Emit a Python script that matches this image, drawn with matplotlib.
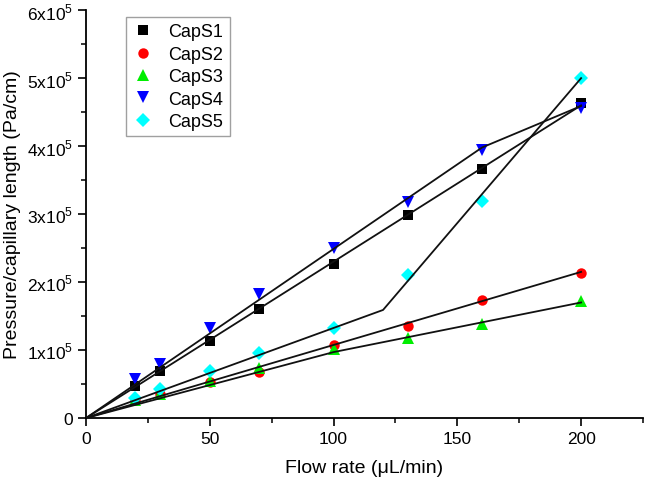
import matplotlib
matplotlib.use("Agg")
import matplotlib.pyplot as plt
from matplotlib.ticker import MultipleLocator, FuncFormatter

plt.rcParams['font.family'] = ['Liberation Sans', 'DejaVu Sans']
plt.rcParams['mathtext.fontset'] = 'custom'
plt.rcParams['mathtext.rm'] = 'Liberation Sans'

# measured points
flow = [20, 30, 50, 70, 100, 130, 160, 200]
caps1 = [47e3, 69e3, 113e3, 160e3, 226e3, 299e3, 367e3, 464e3]
caps2 = [28e3, 36e3, 53e3, 68e3, 107e3, 135e3, 174e3, 214e3]
caps3 = [26e3, 35e3, 55e3, 73e3, 102e3, 118e3, 138e3, 172e3]
caps4 = [57e3, 80e3, 132e3, 183e3, 250e3, 318e3, 395e3, 456e3]
caps5 = [30e3, 43e3, 69e3, 95e3, 133e3, 210e3, 319e3, 500e3]

# fitted line segments (black lines)
fit1_x = [0, 160, 200]
fit1_y = [0, 368e3, 460e3]
fit2_x = [0, 200]
fit2_y = [0, 215e3]
fit3_x = [0, 100, 200]
fit3_y = [0, 97e3, 170e3]
fit4_x = [0, 160, 200]
fit4_y = [0, 398e3, 459e3]
fit5_x = [0, 120, 200]
fit5_y = [0, 159e3, 500e3]

names = ['CapS1', 'CapS2', 'CapS3', 'CapS4', 'CapS5']
series = [caps1, caps2, caps3, caps4, caps5]
fits = [(fit1_x, fit1_y), (fit2_x, fit2_y), (fit3_x, fit3_y),
        (fit4_x, fit4_y), (fit5_x, fit5_y)]
colors = ['#000000', '#ff0000', '#00ee00', '#0000ff', '#00ffff']
markers = ['s', 'o', '^', 'v', 'D']
msizes = [7, 7.5, 8, 8, 7]

fig = plt.figure(figsize=(6.45, 4.85), dpi=100)
ax = fig.add_axes([0.1333, 0.136, 0.8636, 0.841])

for fx, fy in fits:
    ax.plot(fx, fy, color='#111111', lw=1.3, zorder=3)

for name, vals, c, m, s in zip(names, series, colors, markers, msizes):
    ax.plot(flow, vals, linestyle='none', marker=m, color=c, ms=s,
            markeredgewidth=0, label=name, zorder=2)

ax.set_xlim(0, 225)
ax.set_ylim(0, 6e5)
ax.xaxis.set_major_locator(MultipleLocator(50))
ax.xaxis.set_minor_locator(MultipleLocator(25))
ax.yaxis.set_major_locator(MultipleLocator(1e5))
ax.yaxis.set_minor_locator(MultipleLocator(0.5e5))


def yfmt(v, pos):
    n = int(round(v / 1e5))
    if n == 0:
        return '0'
    return r'%dx10$^{\mathregular{5}}$' % n


ax.yaxis.set_major_formatter(FuncFormatter(yfmt))

for side in ['top', 'right']:
    ax.spines[side].set_visible(False)
for side in ['left', 'bottom']:
    ax.spines[side].set_linewidth(1.3)
ax.tick_params(which='major', direction='out', length=6, width=1.2, labelsize=12.5)
ax.tick_params(which='minor', direction='out', length=3.5, width=1.1)

ax.set_xlabel('Flow rate (μL/min)', fontsize=14, labelpad=9)
ax.set_ylabel('Pressure/capillary length (Pa/cm)', fontsize=14, labelpad=4)

leg = ax.legend(loc='upper left', bbox_to_anchor=(0.072, 0.983), borderaxespad=0,
                fontsize=13, fancybox=False, frameon=True, handletextpad=0.8,
                labelspacing=0.3, borderpad=0.35, handlelength=1.2)
leg.get_frame().set_edgecolor('#888888')
leg.get_frame().set_linewidth(1.0)

fig.savefig('out.png', dpi=100)
